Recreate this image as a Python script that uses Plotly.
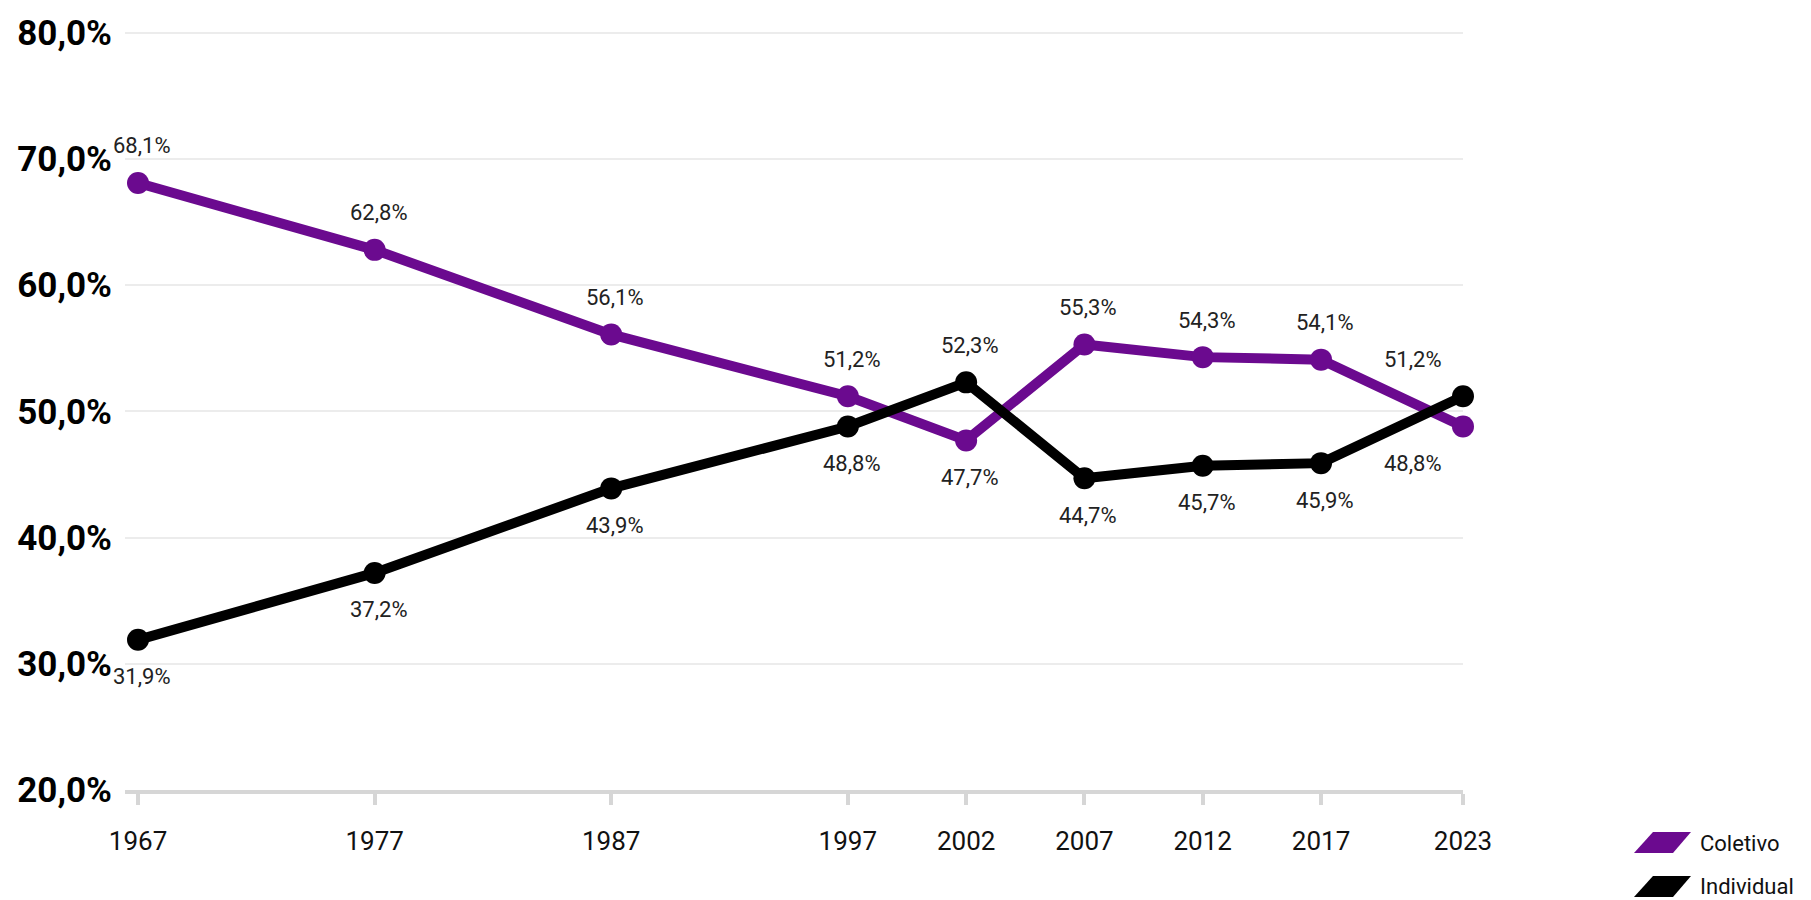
import plotly.graph_objects as go

years = [1967, 1977, 1987, 1997, 2002, 2007, 2012, 2017, 2023]
coletivo = [68.1, 62.8, 56.1, 51.2, 47.7, 55.3, 54.3, 54.1, 48.8]
individual = [31.9, 37.2, 43.9, 48.8, 52.3, 44.7, 45.7, 45.9, 51.2]
series_names = ["Coletivo", "Individual"]
y_ticks = [20, 30, 40, 50, 60, 70, 80]

PURPLE = "#6B0A8F"
BLACK = "#000000"
FONT = "Roboto, Liberation Sans, sans-serif"

W, H = 1811, 900
L, R, T, B = 125, 348, 29, 110
PW, PH = W - L - R, H - T - B

def px(X):
    return (X - L) / PW

def py(Y):
    return (H - B - Y) / PH

def pct(v):
    return f"{v:.1f}".replace(".", ",") + "%"

fig = go.Figure()
for name, vals, col in [(series_names[0], coletivo, PURPLE), (series_names[1], individual, BLACK)]:
    fig.add_trace(go.Scatter(
        x=years, y=vals, mode="lines+markers", name=name,
        line=dict(color=col, width=10),
        marker=dict(color=col, size=22),
        cliponaxis=False, showlegend=False,
    ))

# data labels: higher series labelled above, lower below
annotations = []
n = len(years)
for i, (yr, c, ind) in enumerate(zip(years, coletivo, individual)):
    for v, other in [(c, ind), (ind, c)]:
        above = v >= other
        xshift = 4
        if i == n - 1:
            xshift = -50
        annotations.append(dict(
            x=yr, y=v, xref="x", yref="y", text=pct(v), showarrow=False,
            yshift=37 if above else -37, xshift=xshift,
            font=dict(family=FONT, size=22, color="#222222"),
        ))

# custom legend (parallelogram swatches)
for k, (name, col) in enumerate([(series_names[0], PURPLE), (series_names[1], BLACK)]):
    dy = 44 * k
    pts = [(1634, 853 + dy), (1673, 853 + dy), (1691, 832 + dy), (1653, 832 + dy)]
    path = "M " + " L ".join(f"{px(a):.5f},{py(b):.5f}" for a, b in pts) + " Z"
    fig.add_shape(type="path", path=path, xref="paper", yref="paper",
                  fillcolor=col, line=dict(width=0))
    annotations.append(dict(
        x=px(1698), y=py(843 + dy), xref="paper", yref="paper", text=name,
        showarrow=False, xanchor="left", yanchor="middle",
        font=dict(family=FONT, size=22, color="#111111"),
    ))

fig.update_layout(
    width=W, height=H,
    margin=dict(l=L, r=R, t=T, b=B),
    paper_bgcolor="white", plot_bgcolor="white",
    annotations=annotations,
    xaxis=dict(
        range=[1966.45, 2023], tickvals=years, ticktext=[str(y) for y in years],
        showgrid=False, zeroline=False,
        showline=True, linecolor="#d6d6d6", linewidth=4,
        ticks="outside", ticklen=11, tickwidth=4, tickcolor="#d6d6d6",
        tickfont=dict(family=FONT, size=26, color="#111111"),
        ticklabelstandoff=14,
    ),
    yaxis=dict(
        range=[20, 80.3], tickvals=y_ticks, ticktext=[pct(v) for v in y_ticks],
        showgrid=True, gridcolor="#ececec", gridwidth=2,
        zeroline=False, showline=False,
        tickfont=dict(family=FONT, size=35, color="#000000", weight="bold"),
        ticklabelstandoff=12,
    ),
)

fig.write_html("out.html")
